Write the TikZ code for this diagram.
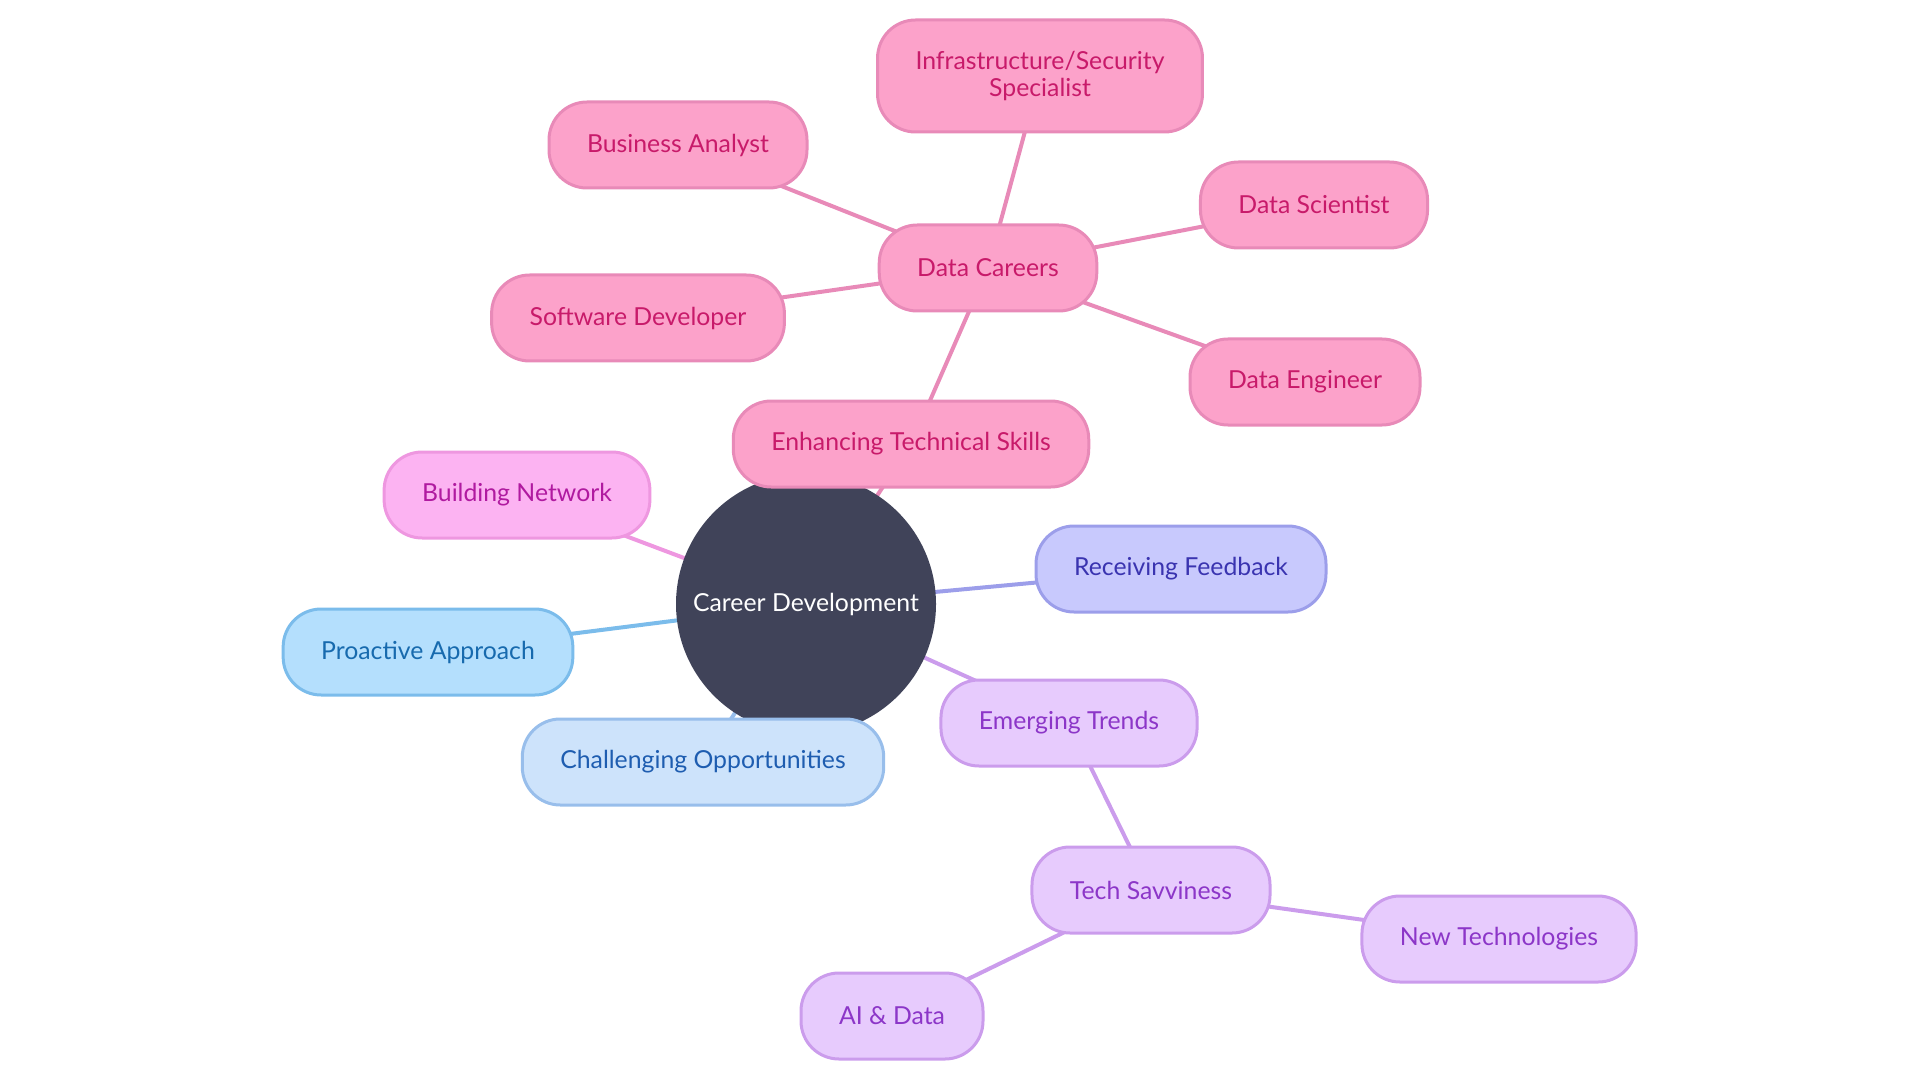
\documentclass[tikz,border=0pt]{standalone}
\usepackage{fontspec}
\setmainfont{Lato}
\usepackage{tikz}
\usetikzlibrary{backgrounds}

\definecolor{hubFill}{HTML}{404359}
\definecolor{pinkFill}{HTML}{FCA2CA}
\definecolor{pinkLine}{HTML}{E88AB8}
\definecolor{pinkText}{HTML}{C81A6A}
\definecolor{magFill}{HTML}{FCB3F2}
\definecolor{magLine}{HTML}{EE97E0}
\definecolor{magText}{HTML}{B01AA0}
\definecolor{indFill}{HTML}{C8C9FD}
\definecolor{indLine}{HTML}{9C9EEA}
\definecolor{indText}{HTML}{3A34B0}
\definecolor{skyFill}{HTML}{B4DFFD}
\definecolor{skyLine}{HTML}{7BBCEB}
\definecolor{skyText}{HTML}{176AAE}
\definecolor{paleFill}{HTML}{CDE3FB}
\definecolor{paleLine}{HTML}{98BEEB}
\definecolor{paleText}{HTML}{1E5DB0}
\definecolor{purFill}{HTML}{E7CBFD}
\definecolor{purLine}{HTML}{CB9CEC}
\definecolor{purText}{HTML}{8C36C8}

\begin{document}
\begin{tikzpicture}[
  x=0.5pt,
  y=-0.5pt,
  every node/.style={font=\fontsize{12.4}{13.5}\selectfont},
  topic/.style={draw, line width=1.5pt, rounded corners=19pt, inner xsep=19pt,
    minimum height=43pt, align=center},
  pinkbox/.style={topic, fill=pinkFill, draw=pinkLine, text=pinkText},
  magbox/.style={topic, fill=magFill, draw=magLine, text=magText},
  indbox/.style={topic, fill=indFill, draw=indLine, text=indText},
  skybox/.style={topic, fill=skyFill, draw=skyLine, text=skyText},
  palebox/.style={topic, fill=paleFill, draw=paleLine, text=paleText},
  purbox/.style={topic, fill=purFill, draw=purLine, text=purText},
  link/.style={line width=2pt},
]
\path[use as bounding box] (0,0) rectangle (1920,1080);

% Hub.
\node[circle, fill=hubFill, text=white, minimum size=130pt, inner sep=0pt] (hub) at (806,604) {Career Development};

% Branches.
\node[pinkbox] (skills) at (911,444) {Enhancing Technical Skills};
\node[pinkbox] (careers) at (988,268) {Data Careers};
\node[pinkbox, minimum height=56pt] (infra) at (1040,76) {Infrastructure/Security\\Specialist};
\node[pinkbox] (analyst) at (678,145) {Business Analyst};
\node[pinkbox] (scientist) at (1314,205) {Data Scientist};
\node[pinkbox] (softdev) at (638,318) {Software Developer};
\node[pinkbox] (engineer) at (1305,382) {Data Engineer};

\node[magbox] (network) at (517,495) {Building Network};
\node[skybox] (proactive) at (428,652) {Proactive Approach};
\node[palebox] (challenge) at (703,762) {Challenging Opportunities};
\node[indbox] (feedback) at (1181,569) {Receiving Feedback};

\node[purbox] (trends) at (1069,723) {Emerging Trends};
\node[purbox] (savvy) at (1151,890) {Tech Savviness};
\node[purbox] (newtech) at (1499,939) {New Technologies};
\node[purbox] (aidata) at (892,1016) {AI \& Data};

% Connectors, behind the boxes.
\begin{scope}[on background layer]
  \draw[link, pinkLine] (hub.center) -- (skills.center);
  \draw[link, pinkLine] (skills.center) -- (careers.center);
  \foreach \leaf in {infra,analyst,scientist,softdev,engineer} {
    \draw[link, pinkLine] (careers.center) -- (\leaf.center);
  }
  \draw[link, magLine] (hub.center) -- (network.center);
  \draw[link, skyLine] (hub.center) -- (proactive.center);
  \draw[link, paleLine] (hub.center) -- (challenge.center);
  \draw[link, indLine] (hub.center) -- (feedback.center);
  \draw[link, purLine] (hub.center) -- (trends.center);
  \draw[link, purLine] (trends.center) -- (savvy.center);
  \draw[link, purLine] (savvy.center) -- (newtech.center);
  \draw[link, purLine] (savvy.center) -- (aidata.center);
\end{scope}

\end{tikzpicture}
\end{document}
